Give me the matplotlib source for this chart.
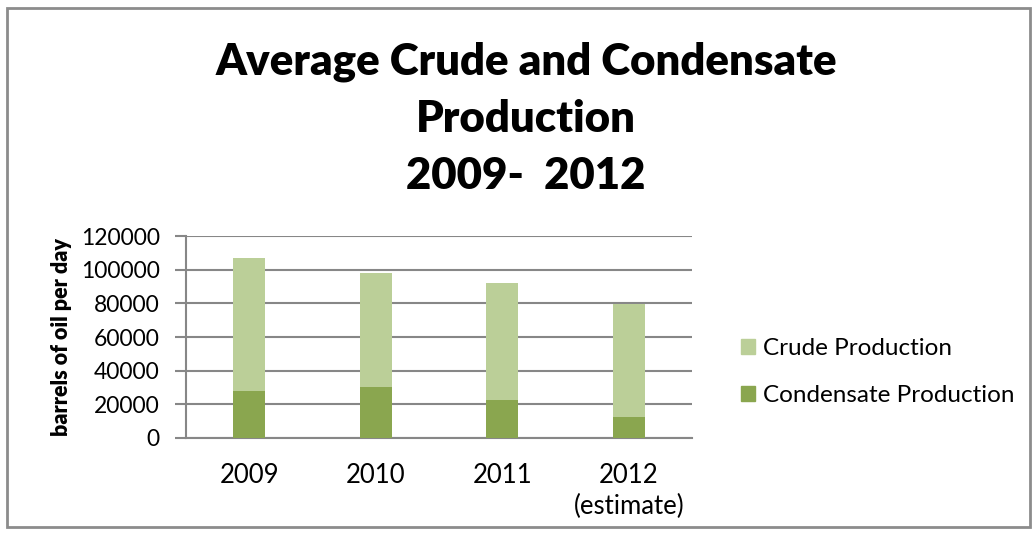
import matplotlib.pyplot as plt
import matplotlib.patches as mpatches
import numpy as np

plt.rcParams['font.family'] = ['Lato', 'DejaVu Sans']

# barrels of oil per day
years = ['2009', '2010', '2011', '2012\n(estimate)']
condensate = [27700, 30500, 22800, 12700]
crude = [79000, 67500, 69100, 67000]

crude_color = '#BBCF98'
cond_color = '#8AA64F'
grid_color = '#878787'

W, H = 1033, 535
fig = plt.figure(figsize=(W / 100, H / 100), dpi=100)

# plot area in pixel coordinates
left, right, top, bottom = 186, 692, 236, 438
ax = fig.add_axes([left / W, 1 - bottom / H, (right - left) / W, (bottom - top) / H])

x = np.arange(len(years))
ax.bar(x, condensate, width=0.25, color=cond_color, label='Condensate Production', zorder=3)
ax.bar(x, crude, width=0.25, bottom=condensate, color=crude_color, label='Crude Production', zorder=3)

ax.set_xlim(-0.5, 3.5)
ax.set_ylim(0, 120000)
ax.set_yticks(np.arange(0, 120001, 20000))
ax.set_yticklabels([str(v) for v in range(0, 120001, 20000)], fontsize=16.5)
ax.set_xticks(x)
ax.set_xticklabels(years, fontsize=18.5, linespacing=1.3)
ax.tick_params(axis='x', length=0, pad=18)
ax.tick_params(axis='y', length=8, width=1.5, color=grid_color, pad=11)
ax.yaxis.grid(True, color=grid_color, linewidth=1.5, zorder=0)

for side in ['top', 'right']:
    ax.spines[side].set_visible(False)
ax.spines['left'].set_color(grid_color)
ax.spines['left'].set_linewidth(1.5)
ax.spines['bottom'].set_color(grid_color)
ax.spines['bottom'].set_linewidth(1.5)

ax.set_ylabel('barrels of oil per day', fontsize=15.5, fontweight='heavy', labelpad=6)

# title, three lines
title_lines = ['Average Crude and Condensate', 'Production', '2009-  2012']
for i, line in enumerate(title_lines):
    fig.text(526 / W, 1 - (62 + 57 * i) / H, line, ha='center', va='center',
             fontsize=31.5, fontweight='heavy')

# legend, crude on top
handles = [mpatches.Patch(color=crude_color, label='Crude Production'),
           mpatches.Patch(color=cond_color, label='Condensate Production')]
fig.legend(handles=handles, loc='center left', bbox_to_anchor=(719 / W, 1 - 372 / H),
           frameon=False, fontsize=17.5, handlelength=0.6, handleheight=0.6,
           handletextpad=0.3, labelspacing=1.08)

# chart border
fig.patches.append(mpatches.Rectangle((7 / W, 8 / H), (1030 - 7) / W, (527 - 8) / H,
                                      transform=fig.transFigure, fill=False,
                                      edgecolor='#8c8c8c', linewidth=2))

fig.savefig('out.png', dpi=100)
